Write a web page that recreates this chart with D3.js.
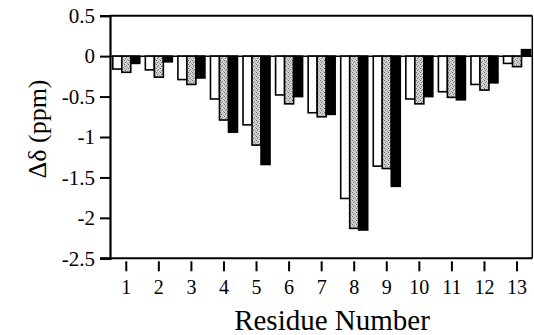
<!DOCTYPE html>
<html>
<head>
<meta charset="utf-8">
<script src="https://cdn.jsdelivr.net/npm/d3@7"></script>
</head>
<body style="margin:0;background:#fff">
<svg id="chart" width="534" height="335"></svg>
<script>
const residues = ["1","2","3","4","5","6","7","8","9","10","11","12","13"];
const seriesNames = ["white","gray","black"];
const whiteVals = [-0.16,-0.17,-0.29,-0.53,-0.85,-0.48,-0.70,-1.76,-1.36,-0.53,-0.44,-0.35,-0.09];
const grayVals  = [-0.20,-0.26,-0.35,-0.79,-1.10,-0.59,-0.75,-2.13,-1.39,-0.59,-0.51,-0.42,-0.13];
const blackVals = [-0.09,-0.07,-0.27,-0.94,-1.34,-0.50,-0.72,-2.15,-1.61,-0.50,-0.54,-0.33,0.08];
const yTicks = [0.5,0,-0.5,-1,-1.5,-2,-2.5];
const yTickLabels = ["0.5","0","-0.5","-1","-1.5","-2","-2.5"];

(function(){
const FONT = "'Liberation Serif'";
const svg = d3.select("#chart");
const defs = svg.append("defs");
const pat = defs.append("pattern").attr("id","stipple").attr("patternUnits","userSpaceOnUse")
  .attr("width",4).attr("height",4);
pat.append("rect").attr("width",4).attr("height",4).attr("fill","#d2d2d2");
[[0,0,"#666"],[2,1,"#888"],[1,2,"#777"],[3,3,"#999"]].forEach(p=>
  pat.append("rect").attr("x",p[0]).attr("y",p[1]).attr("width",1).attr("height",1).attr("fill",p[2]));

const pl = 110, pr = 533.3, pt = 15.7, pb = 258.3;
const x = d3.scaleBand().domain(residues).range([pl, pr]).padding(0);
const y = d3.scaleLinear().domain([-2.5, 0.5]).range([pb, pt]);
const groupW = 27;
const xs = d3.scaleBand().domain(seriesNames).range([0, groupW]).padding(0);
const fills = {white:"#fff", gray:"url(#stipple)", black:"#000"};
const vals = {white:whiteVals, gray:grayVals, black:blackVals};

const data = [];
residues.forEach((r,i)=>{
  seriesNames.forEach(s=>data.push({r, s, v: vals[s][i]}));
});

svg.append("line").attr("x1",pl).attr("x2",pr-1).attr("y1",y(0)).attr("y2",y(0))
  .attr("stroke","#000").attr("stroke-width",1.5);

svg.append("g").selectAll("rect").data(data).join("rect")
  .attr("x", d => x(d.r) + x.bandwidth()/2 - groupW/2 + xs(d.s))
  .attr("width", xs.bandwidth())
  .attr("y", d => y(Math.max(0, d.v)))
  .attr("height", d => Math.abs(y(d.v) - y(0)))
  .attr("fill", d => fills[d.s])
  .attr("stroke", "#000").attr("stroke-width", 1.6);

svg.append("line").attr("x1",pl).attr("x2",pr-1).attr("y1",pt).attr("y2",pt).attr("stroke","#000").attr("stroke-width",2);
svg.append("line").attr("x1",pr-1).attr("x2",pr-1).attr("y1",pt).attr("y2",pb).attr("stroke","#000").attr("stroke-width",1.5);

const yAxis = d3.axisLeft(y).tickValues(yTicks).tickFormat((d,i)=>yTickLabels[i]).tickSize(10).tickPadding(5);
const gy = svg.append("g").attr("transform",`translate(${pl},0)`).call(yAxis);
gy.attr("font-family", null).attr("font-size", null);
gy.select(".domain").attr("stroke-width",2.2);
gy.selectAll(".tick line").attr("stroke-width",2);
gy.selectAll(".tick text").attr("font-size",21).style("font-family", FONT);

svg.append("line").attr("x1",pl-10).attr("x2",pr-1).attr("y1",pb).attr("y2",pb).attr("stroke","#000").attr("stroke-width",2);
const xAxis = d3.axisBottom(x).tickSize(10).tickPadding(9);
const gx = svg.append("g").attr("transform",`translate(0,${pb+3})`).call(xAxis);
gx.attr("font-family", null).attr("font-size", null);
gx.select(".domain").remove();
gx.selectAll(".tick line").attr("stroke-width",2);
gx.selectAll(".tick text").attr("font-size",20).style("font-family", FONT);

svg.append("text").attr("x",332).attr("y",330).attr("text-anchor","middle")
  .attr("font-size",29).style("font-family", FONT).text("Residue Number");
svg.append("text").attr("transform","translate(46,129) rotate(-90)").attr("text-anchor","middle")
  .attr("font-size",26).style("font-family", FONT).text("Δδ (ppm)");
})();
</script>
</body>
</html>
